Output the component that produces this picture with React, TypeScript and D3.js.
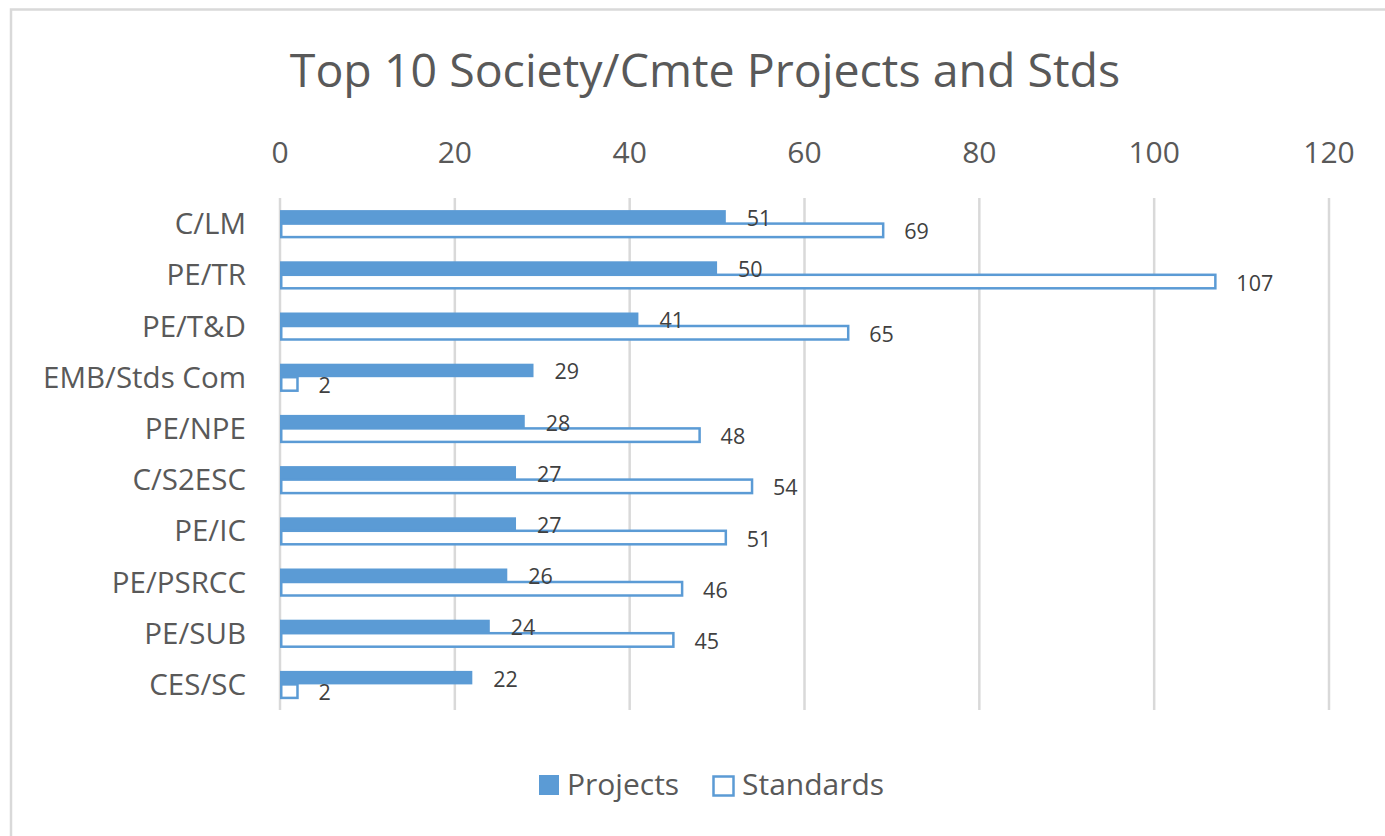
import React from "react";
import * as d3 from "d3";

const categories = ["C/LM", "PE/TR", "PE/T&D", "EMB/Stds Com", "PE/NPE", "C/S2ESC", "PE/IC", "PE/PSRCC", "PE/SUB", "CES/SC"];
const projects = [51, 50, 41, 29, 28, 27, 27, 26, 24, 22];
const standards = [69, 107, 65, 2, 48, 54, 51, 46, 45, 2];
const xTicks = [0, 20, 40, 60, 80, 100, 120];
const seriesNames = ["Projects", "Standards"];
const title = "Top 10 Society/Cmte Projects and Stds";

const BLUE = "#5B9BD5";
const GRID = "#D9D9D9";
const TEXT = "#595959";
const FONT = "'Open Sans', 'Noto Sans', sans-serif";

export default function App() {
  const W = 1385, H = 836;
  const x = d3.scaleLinear().domain([0, 120]).range([280, 1329]);
  const y = d3.scaleBand<string>().domain(categories).range([198, 710]).paddingInner(0).paddingOuter(0);
  const barH = 13.5;
  const labelGap = 21;

  return (
    <svg width={W} height={H} style={{ position: "absolute", left: 0, top: 0, background: "#fff" }}>
      <rect x={11} y={9.5} width={1500} height={1000} fill="#fff" stroke={GRID} strokeWidth={2.5} />
      <text x={705} y={87} textAnchor="middle" fontFamily={FONT} fontSize={46.5} fill={TEXT}>{title}</text>
      {xTicks.map((t) => (
        <g key={t}>
          <line x1={x(t)} x2={x(t)} y1={198} y2={710} stroke={GRID} strokeWidth={2.5} />
          <text x={x(t)} y={163} textAnchor="middle" fontFamily={FONT} fontSize={30} fill={TEXT}>{t}</text>
        </g>
      ))}
      {categories.map((c, i) => {
        const cy = (y(c) as number) + y.bandwidth() / 2;
        return (
          <g key={c}>
            <text x={246} y={cy + 10.5} textAnchor="end" fontFamily={FONT} fontSize={29.5} fill={TEXT}>{c}</text>
            <rect x={x(0)} y={cy - barH} width={x(projects[i]) - x(0)} height={barH} fill={BLUE} />
            <rect x={x(0) + 1.25} y={cy} width={x(standards[i]) - x(0) - 1.25} height={barH} fill="#fff" stroke={BLUE} strokeWidth={2.5} />
          </g>
        );
      })}
      {categories.map((c, i) => {
        const cy = (y(c) as number) + y.bandwidth() / 2;
        return (
          <g key={c + "-lbl"} fontFamily={FONT} fontSize={21.5} fill="#404040">
            <text x={x(projects[i]) + labelGap} y={cy - barH / 2 + 9}>{projects[i]}</text>
            <text x={x(standards[i]) + labelGap} y={cy + barH / 2 + 9}>{standards[i]}</text>
          </g>
        );
      })}
      <g>
        <rect x={539} y={775} width={20} height={20} fill={BLUE} />
        <text x={567} y={795} fontFamily={FONT} fontSize={30} fill={TEXT}>{seriesNames[0]}</text>
        <rect x={713.5} y={776.5} width={20} height={19} fill="#fff" stroke={BLUE} strokeWidth={2.5} />
        <text x={742} y={795} fontFamily={FONT} fontSize={30} fill={TEXT}>{seriesNames[1]}</text>
      </g>
    </svg>
  );
}
